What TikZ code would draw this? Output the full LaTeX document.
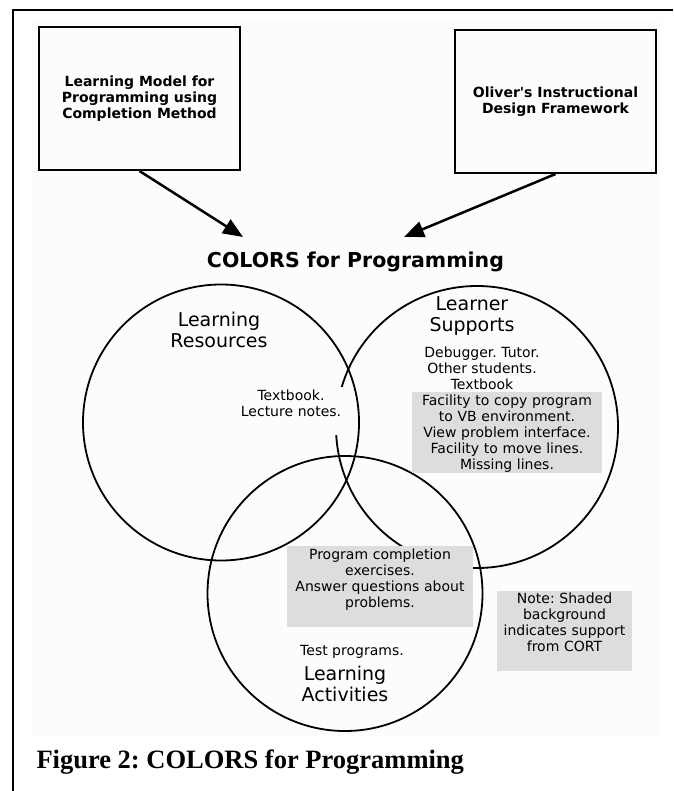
\documentclass[tikz,border=0pt]{standalone}
\usepackage{fontspec}
\setmainfont{DejaVu Sans}
\newfontfamily\capfont{Liberation Serif}
\usepackage{tikz}
\usetikzlibrary{positioning,arrows.meta}
\definecolor{shade}{RGB}{221,221,221}
\definecolor{paper}{RGB}{252,252,252}
\frenchspacing

\begin{document}
\begin{tikzpicture}[
  x=1pt, y=-1pt,
  src/.style={draw, line width=2pt, minimum width=201pt, minimum height=143pt, inner sep=0pt, align=center, font=\bfseries\fontsize{14}{16}\selectfont},
  ring/.style={draw, circle, line width=1.8pt, inner sep=0pt},
  head/.style={align=center, font=\fontsize{19}{21}\selectfont},
  txt/.style={align=center, font=\fontsize{14}{16}\selectfont},
  shadebox/.style={fill=shade, inner sep=0pt, anchor=north, align=center, text height=13pt, text depth=68pt, font=\fontsize{14}{16}\selectfont},
  arr/.style={-{Triangle[length=20pt, width=16pt]}, line width=2.5pt}
]
  \useasboundingbox (0,0) rectangle (673,791);
  % frame and paper
  \fill[paper] (32,20) rectangle (660,737);
  \draw[line width=2pt] (12.7,791) -- (12.7,10) -- (673,10);

  % sources
  \node[src] (model) at (139.5,98.5) {Learning Model for\\Programming using\\Completion Method};
  \node[src] (oliver) at (555.5,101.5) {Oliver\textquotesingle s Instructional\\Design Framework};
  \coordinate (tipl) at (243,237);
  \coordinate (tipr) at (404,237);
  \draw[arr] (model.south) -- (tipl);
  \draw[arr] (oliver.south) -- (tipr);

  \node[font=\bfseries\fontsize{20.5}{24}\selectfont] (title) at (355.5,262) {COLORS for Programming};

  % the three circles
  \node[ring, minimum size=276pt] (res) at (221,422.5) {};
  \node[ring, minimum size=282pt] (sup) at (477,427) {};
  \node[ring, minimum size=275pt] (act) at (345,593.5) {};

  \node[head] (reslbl) at (219,329.5) {Learning\\Resources};
  \node[head] (suplbl) at (472,316.5) {Learner\\Supports};
  \node[head] (actlbl) at (345,683.5) {Learning\\Activities};

  \node[txt, fill=paper, anchor=north, inner sep=0pt, text width=104pt, text height=13pt, text depth=35pt] (restxt) at (291,387) {Textbook.\\Lecture notes.};
  \node[txt] (suptxt) at (482,368) {Debugger. Tutor.\\Other students.\\Textbook};
  \node[shadebox, text width=190pt] (cort) at (507,392) {Facility to copy program\\to VB environment.\\View problem interface.\\Facility to move lines.\\Missing lines.};
  \node[shadebox, text width=186pt] (done) at (380,546) {Program completion\\exercises.\\Answer questions about\\problems.};
  \node[txt] (test) at (352,652) {Test programs.};
  \node[shadebox, text width=135pt, text height=12pt] (note) at (564.5,591) {Note: Shaded\\background\\indicates support\\from CORT};

  \node[anchor=base west, font=\capfont\bfseries\fontsize{26.5}{30}\selectfont] (caption) at (33,768) {Figure 2: COLORS for Programming};
\end{tikzpicture}
\end{document}
